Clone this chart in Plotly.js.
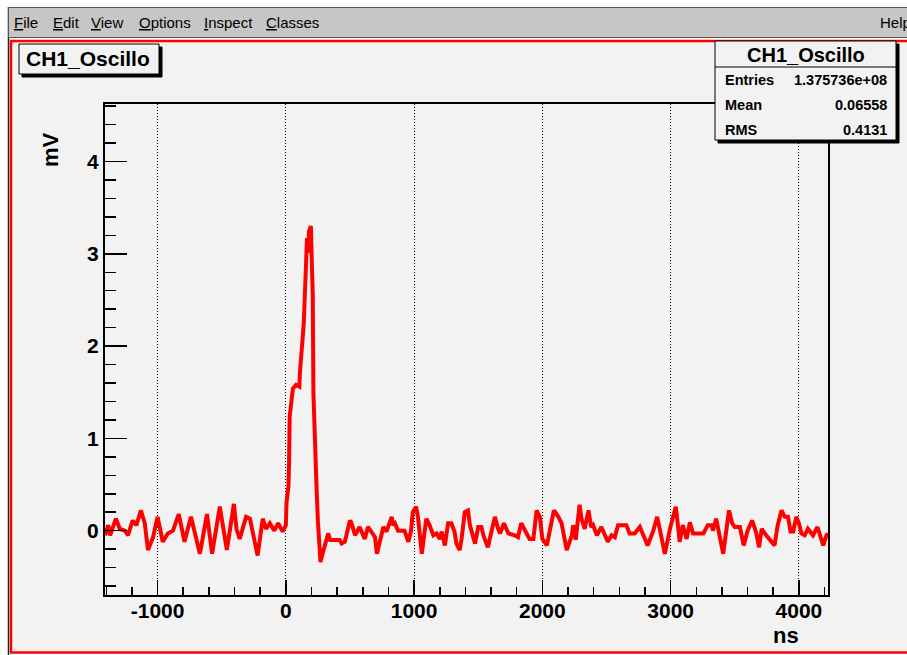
<!DOCTYPE html>
<html><head><meta charset="utf-8">
<script src="https://cdn.plot.ly/plotly-3.0.1.min.js"></script>
<style>html,body{margin:0;padding:0;background:#fff;overflow:hidden}#chart{width:907px;height:655px}</style>
</head><body><div id="chart"></div>
<script>
// ---- data ----
const timeNs = [
 -1410,-1385,-1370,-1325,-1295,-1255,-1230,-1195,-1165,-1130,-1100,-1075,-1035,-1000,-960,-920,-880,-835,-790,-740,
 -670,-615,-575,-515,-460,-405,-385,-360,-310,-280,-220,-180,-155,-125,-90,-60,-25,0,
 5,20,25,30,45,55,80,105,110,120,130,140,150,155,165,175,180,195,200,210,215,225,240,250,260,270,
 290,330,345,420,435,460,500,510,540,575,615,640,675,695,710,760,785,825,835,850,875,925,955,975,990,1015,1030,1045,1060,
 1095,1120,1150,1175,1200,1215,1240,1265,1290,1315,1330,1355,1370,1395,1420,
 1435,1475,1500,1525,1540,1575,1630,1655,1670,1700,1735,1785,1810,1835,1865,1900,1930,1955,1980,2000,2035,2060,2090,
 2125,2150,2190,2230,2240,2260,2290,2305,2330,2360,2380,2395,2425,2460,2510,2540,2565,2590,2655,2680,2720,2760,2800,2820,
 2865,2895,2915,2955,2995,3020,3040,3060,3070,3095,3125,3150,3175,3255,3290,3320,3330,3355,3385,3410,3455,3480,3500,3540,
 3570,3600,3635,3665,3690,3710,3745,3770,3810,3835,3865,3890,3915,3935,3955,3980,4000,4020,4045,4070,4110,4145,4170,4190,4215,4227
];
const voltageMv = [
 -0.05,0.06,-0.05,0.13,0.02,0.00,-0.05,0.11,0.06,0.22,0.08,-0.21,-0.07,0.15,-0.12,-0.03,0.00,0.18,-0.12,0.15,
 -0.25,0.18,-0.25,0.26,-0.21,0.29,0.02,-0.09,0.15,0.13,-0.27,0.13,0.02,0.08,0.00,0.08,-0.01,0.06,
 0.30,0.48,0.73,1.24,1.42,1.54,1.58,1.56,1.72,1.85,2.07,2.25,2.75,2.99,3.17,3.01,3.24,3.30,2.93,2.54,1.49,0.93,0.44,0.10,-0.17,-0.34,
 -0.23,-0.03,-0.10,-0.10,-0.14,-0.12,0.11,0.09,-0.05,0.04,-0.09,0.04,-0.03,-0.07,-0.25,0.04,-0.01,0.15,0.06,0.08,0.00,0.00,-0.12,-0.01,0.20,0.26,0.15,-0.10,-0.25,
 0.13,0.06,-0.05,-0.03,-0.09,-0.01,-0.16,0.08,0.08,-0.01,-0.14,-0.21,-0.09,0.20,0.22,
 0.06,-0.14,0.04,0.04,-0.05,-0.18,0.15,0.02,-0.03,0.08,-0.03,-0.05,-0.07,0.08,0.00,-0.09,-0.09,0.22,0.15,-0.09,-0.16,0.02,0.22,
 0.15,0.08,-0.21,-0.05,0.06,-0.10,0.28,0.13,0.02,0.22,0.04,0.06,-0.05,0.04,-0.12,-0.05,-0.07,0.06,0.06,-0.03,-0.03,0.04,-0.09,-0.16,
 0.00,0.15,0.02,-0.25,0.02,0.17,0.26,0.02,-0.12,0.06,-0.09,0.09,-0.03,-0.03,0.06,0.06,0.00,0.13,-0.09,-0.25,0.22,0.08,0.04,0.04,
 -0.16,0.00,0.11,-0.01,-0.18,0.02,-0.05,-0.09,-0.16,0.06,0.22,0.15,0.15,-0.01,-0.01,0.15,0.08,-0.03,-0.05,0.02,-0.05,0.04,-0.09,-0.16,-0.05,-0.03
];
const xTickVals = [-1000, 0, 1000, 2000, 3000, 4000];
const xTickLabels = ['-1000', '0', '1000', '2000', '3000', '4000'];
const yTickVals = [0, 1, 2, 3, 4];
const yTickLabels = ['0', '1', '2', '3', '4'];
const histName = 'CH1_Oscillo';
const statLabels = ['Entries', 'Mean', 'RMS'];
const statValues = ['1.375736e+08', '0.06558', '0.4131'];
const menuItems = ['File', 'Edit', 'View', 'Options', 'Inspect', 'Classes'];
const xTitle = 'ns', yTitle = 'mV';

// ---- layout helpers (pixel -> paper) ----
const W = 907, H = 655, L = 105, R = 828, T = 104, B = 595;
const px = x => (x - L) / (R - L);
const py = y => (B - y) / (B - T);
const FONT = 'Liberation Sans, Arial, Helvetica, sans-serif';
const BG = '#f2f2f2';

const rect = (x0, y0, x1, y1, fill, line, lw, layer) => ({
  type: 'rect', xref: 'paper', yref: 'paper', x0: px(x0), x1: px(x1), y0: py(y1), y1: py(y0),
  fillcolor: fill, line: {color: line, width: lw}, layer: layer || 'above'
});
const seg = (x0, y0, x1, y1, color, lw, layer) => ({
  type: 'line', xref: 'paper', yref: 'paper', x0: px(x0), x1: px(x1), y0: py(y0), y1: py(y1),
  line: {color: color, width: lw}, layer: layer || 'above'
});

const shapes = [
  rect(11, 41, 940, 652.5, BG, '#ff0000', 2.5, 'below'),
  seg(8.5, 7, 8.5, 655, '#222', 1.5, 'below'),
  rect(8.5, 7.5, 940, 37.5, '#c6c6c6', '#555', 1, 'below'),
  rect(22, 47, 162, 77, '#000', '#000', 1),
  rect(19, 44, 159, 74, BG, '#000', 1),
  rect(718, 44, 899, 143, '#000', '#000', 1),
  rect(715, 41, 896, 140, BG, '#000', 1),
  seg(715, 67, 896, 67, '#000', 1)
];

const ann = (text, x, y, size, opts) => Object.assign({
  text: text, xref: 'paper', yref: 'paper', x: px(x), y: py(y), showarrow: false,
  font: {family: FONT, size: size, color: '#000'}, xanchor: 'center', yanchor: 'middle', borderpad: 0
}, opts || {});
const bold = size => ({family: FONT, size: size, color: '#000', weight: 'bold'});

const menuX = [13, 52, 90, 138, 203, 265];
const annotations = [];
menuItems.forEach((m, i) => {
  annotations.push(ann('<span style="text-decoration:underline">' + m[0] + '</span>' + m.slice(1),
    menuX[i], 23, 15, {xanchor: 'left'}));
});
annotations.push(ann('Help', 879, 23, 15, {xanchor: 'left'}));
annotations.push(ann(histName, 88, 59, 21, {font: bold(21)}));
annotations.push(ann(histName, 806, 55, 20, {font: bold(20)}));
const rowY = [80, 105, 130];
statLabels.forEach((s, i) => {
  annotations.push(ann(s, 724, rowY[i], 14.5, {xanchor: 'left', font: bold(14.5)}));
  annotations.push(ann(statValues[i], 888, rowY[i], 14.5, {xanchor: 'right', font: bold(14.5)}));
});
annotations.push(ann(yTitle, 50, 150, 22, {textangle: -90, font: bold(22)}));
annotations.push(ann(xTitle, 786, 636, 22, {font: bold(22)}));

const tickFont = bold(21);

const trace = {
  x: timeNs, y: voltageMv, type: 'scatter', mode: 'lines',
  line: {color: '#ff0000', width: 4}, hoverinfo: 'skip', cliponaxis: true
};

const layout = {
  width: W, height: H,
  margin: {l: L, r: W - R, t: T, b: H - B, pad: 0},
  paper_bgcolor: '#ffffff', plot_bgcolor: BG,
  showlegend: false,
  xaxis: {
    range: [-1410, 4227], tickmode: 'array', tickvals: xTickVals, ticktext: xTickLabels,
    ticks: 'inside', ticklen: 15, tickwidth: 1.5, tickcolor: '#000',
    showline: true, linewidth: 2, linecolor: '#000', mirror: true,
    showgrid: true, gridcolor: '#000', gridwidth: 1, griddash: '1px,2px',
    zeroline: false, tickfont: tickFont, ticklabelstandoff: -4,
    minor: {tickmode: 'linear', tick0: 0, dtick: 200, ticks: 'inside', ticklen: 8, tickwidth: 1.5, tickcolor: '#000', showgrid: false}
  },
  yaxis: {
    range: [-0.697, 4.623], tickmode: 'array', tickvals: yTickVals, ticktext: yTickLabels,
    ticks: 'inside', ticklen: 22, tickwidth: 1.5, tickcolor: '#000',
    showline: true, linewidth: 2, linecolor: '#000', mirror: true,
    showgrid: false, zeroline: false, tickfont: tickFont,
    minor: {tickmode: 'linear', tick0: 0, dtick: 0.2, ticks: 'inside', ticklen: 11, tickwidth: 1.5, tickcolor: '#000', showgrid: false}
  },
  shapes: shapes,
  annotations: annotations
};

Plotly.newPlot('chart', [trace], layout, {staticPlot: true, displayModeBar: false});
</script>
</body></html>
